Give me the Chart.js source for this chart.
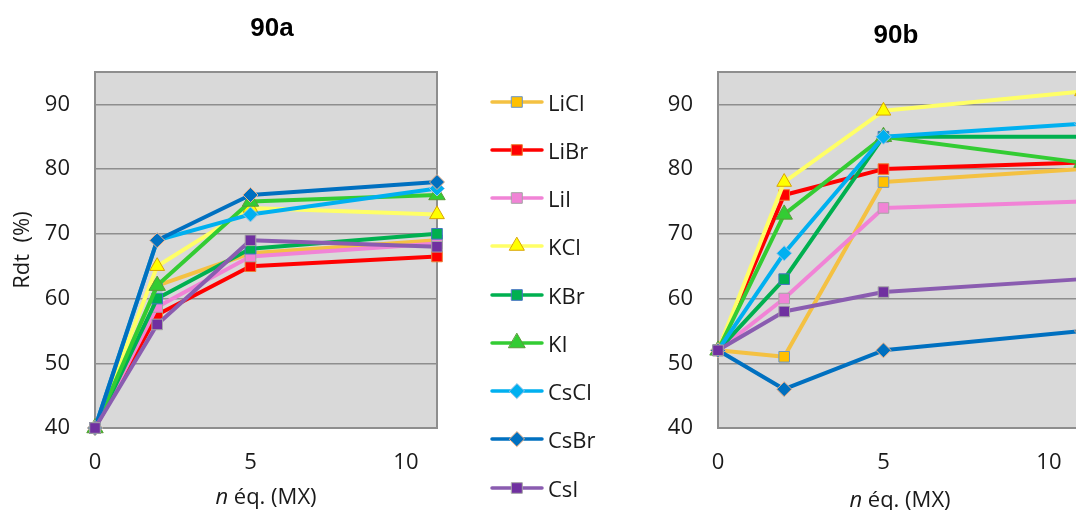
<!DOCTYPE html>
<html>
<head>
<meta charset="utf-8">
<script src="https://cdn.jsdelivr.net/npm/chart.js@4.4.0/dist/chart.umd.min.js"></script>
<style>
  html, body { margin: 0; padding: 0; background: #fff; }
  #page { position: relative; width: 1076px; height: 510px; overflow: hidden; font-family: 'Open Sans', sans-serif; }
  #wrapA { position: absolute; left: 0; top: 0; }
  #wrapB { position: absolute; left: 640px; top: 0; }
  .item { position: absolute; left: 488px; height: 28px; display: flex; align-items: center; }
  .item canvas { display: block; }
  .item span { font-size: 22px; color: #1a1a1a; margin-left: 2px; white-space: nowrap; }
</style>
</head>
<body>
<div id="page">
  <div id="wrapA"><canvas id="chartA" width="544" height="510"></canvas></div>
  <div id="wrapB"><canvas id="chartB" width="512" height="510"></canvas></div>
  <div id="legend"></div>
</div>
<script>
// x = n éq. (MX)
const xValues = [0, 2, 5, 11];
const salts = ['LiCl', 'LiBr', 'LiI', 'KCl', 'KBr', 'KI', 'CsCl', 'CsBr', 'CsI'];

// 90a - Rdt (%)
const liclA = [40, 62, 67, 69];
const librA = [40, 57.5, 65, 66.5];
const liiA  = [40, 58.7, 66.5, 68.5];
const kclA  = [40, 65, 74, 73];
const kbrA  = [40, 60, 67.7, 70];
const kiA   = [40, 62, 75, 76];
const csclA = [40, 69, 73, 77];
const csbrA = [40, 69, 76, 78];
const csiA  = [40, 56, 69, 68];

// 90b - Rdt (%)
const liclB = [52, 51, 78, 80];
const librB = [52, 76, 80, 81];
const liiB  = [52, 60, 74, 75];
const kclB  = [52, 78, 89, 92];
const kbrB  = [52, 63, 85, 85];
const kiB   = [52, 73, 85, 81];
const csclB = [52, 67, 85, 87];
const csbrB = [52, 46, 52, 55];
const csiB  = [52, 58, 61, 63];

const yTicks = [40, 50, 60, 70, 80, 90];
const xTicks = [0, 5, 10];

const styles = {
  LiCl: { line: '#f4c142', fill: '#ffc000', edge: '#6a95c8', shape: 'rect', r: 7.5 },
  LiBr: { line: '#ff0000', fill: '#ff0000', edge: '#ed7d31', shape: 'rect', r: 7.5 },
  LiI:  { line: '#f183d6', fill: '#f183d6', edge: '#a5a5a5', shape: 'rect', r: 7.5 },
  KCl:  { line: '#ffff66', fill: '#ffff00', edge: '#d9a400', shape: 'triangle', r: 8.5 },
  KBr:  { line: '#00b050', fill: '#00b050', edge: '#4472c4', shape: 'rect', r: 7.5 },
  KI:   { line: '#33cc33', fill: '#33cc33', edge: '#5a9a3a', shape: 'triangle', r: 9.5 },
  CsCl: { line: '#00b0f0', fill: '#00b0f0', edge: '#9dc3e6', shape: 'rectRot', r: 7.5 },
  CsBr: { line: '#0070c0', fill: '#0070c0', edge: '#f4b183', shape: 'rectRot', r: 7.5 },
  CsI:  { line: '#8a5cb0', fill: '#7030a0', edge: '#a5a5a5', shape: 'rect', r: 7.5 }
};

const textColor = '#1a1a1a';
const tickFont = { family: "'Open Sans', sans-serif", size: 22 };

// grey plot area with its frame
const plotFrame = {
  id: 'frame',
  beforeDraw(chart) {
    const { ctx, chartArea: a } = chart;
    ctx.save();
    ctx.fillStyle = '#d9d9d9';
    ctx.fillRect(a.left, a.top, a.width, a.height);
    ctx.restore();
  },
  beforeDatasetsDraw(chart) {
    const { ctx, chartArea: a } = chart;
    ctx.save();
    ctx.strokeStyle = '#8e8e8e';
    ctx.lineWidth = 2;
    ctx.strokeRect(a.left, a.top, a.width, a.height);
    ctx.restore();
  }
};

// x axis title with italic n
const xAxisTitle = {
  id: 'xTitle',
  afterDraw(chart, args, opts) {
    const { ctx, chartArea: a } = chart;
    const italic = "italic 22px 'Open Sans', sans-serif";
    const normal = "22px 'Open Sans', sans-serif";
    const rest = ' éq. (MX)';
    ctx.save();
    ctx.font = italic;
    const w1 = ctx.measureText('n').width;
    ctx.font = normal;
    const w2 = ctx.measureText(rest).width;
    let x = (a.left + a.right) / 2 - (w1 + w2) / 2;
    ctx.fillStyle = textColor;
    ctx.textAlign = 'left';
    ctx.textBaseline = 'alphabetic';
    ctx.font = italic;
    ctx.fillText('n', x, opts.baseline);
    ctx.font = normal;
    ctx.fillText(rest, x + w1, opts.baseline);
    ctx.restore();
  }
};

function buildDatasets(series) {
  return salts.map((name, i) => {
    const st = styles[name];
    return {
      label: name,
      data: series[i].map((v, j) => ({ x: xValues[j], y: v })),
      borderColor: st.line,
      borderWidth: 4,
      borderCapStyle: 'round',
      borderJoinStyle: 'round',
      pointStyle: st.shape,
      pointRadius: st.r,
      pointBackgroundColor: st.fill,
      pointBorderColor: st.edge,
      pointBorderWidth: 1,
      tension: 0,
      clip: false,
      order: salts.length - i,
      xAxisID: 'x',
      yAxisID: 'y'
    };
  });
}

function makeOptions(cfg) {
  return {
    responsive: false,
    animation: false,
    events: [],
    layout: { padding: 0 },
    plugins: {
      legend: { display: false },
      tooltip: { enabled: false },
      title: {
        display: true,
        text: cfg.title,
        color: '#000',
        font: { family: "'Liberation Sans', Arial, sans-serif", size: 26, weight: 'bold' },
        padding: cfg.titlePadding
      },
      xTitle: { baseline: cfg.xBaseline }
    },
    scales: {
      x: {
        type: 'linear',
        min: 0,
        max: 11,
        grid: { display: false, drawTicks: false },
        border: { display: false },
        afterBuildTicks: s => { s.ticks = xTicks.map(v => ({ value: v })); },
        ticks: { padding: 22, color: textColor, font: tickFont },
        afterFit: s => { s.height = 82; }
      },
      y: {
        type: 'linear',
        min: 40,
        max: 95,
        grid: { color: '#8e8e8e', lineWidth: 1.5, drawTicks: false },
        border: { display: false },
        afterBuildTicks: s => { s.ticks = yTicks.map(v => ({ value: v })); },
        ticks: { padding: 25, color: textColor, font: tickFont },
        title: {
          display: !!cfg.yTitle,
          text: cfg.yTitle || '',
          color: textColor,
          font: tickFont,
          padding: { top: 10, bottom: 0 }
        },
        afterFit: s => { s.width = cfg.left; }
      },
      pad: {
        type: 'linear',
        position: 'right',
        display: true,
        grid: { display: false, drawTicks: false },
        border: { display: false },
        ticks: { display: false },
        afterFit: s => { s.width = cfg.right; }
      }
    }
  };
}

new Chart(document.getElementById('chartA'), {
  type: 'line',
  data: { datasets: buildDatasets([liclA, librA, liiA, kclA, kbrA, kiA, csclA, csbrA, csiA]) },
  options: makeOptions({
    title: '90a', titlePadding: { top: 13, bottom: 27.8 }, xBaseline: 504,
    yTitle: 'Rdt  (%)', left: 95, right: 107
  }),
  plugins: [plotFrame, xAxisTitle]
});

new Chart(document.getElementById('chartB'), {
  type: 'line',
  data: { datasets: buildDatasets([liclB, librB, liiB, kclB, kbrB, kiB, csclB, csbrB, csiB]) },
  options: makeOptions({
    title: '90b', titlePadding: { top: 20.4, bottom: 20.4 }, xBaseline: 507,
    left: 78, right: 70
  }),
  plugins: [plotFrame, xAxisTitle]
});

// legend: line with marker, as in the spreadsheet
const legend = document.getElementById('legend');
salts.forEach((name, i) => {
  const st = styles[name];
  const row = document.createElement('div');
  row.className = 'item';
  row.style.top = (101.7 + i * 48.25 - 14) + 'px';
  const c = document.createElement('canvas');
  c.width = 58;
  c.height = 28;
  const g = c.getContext('2d');
  g.strokeStyle = st.line;
  g.lineWidth = 3.5;
  g.lineCap = 'round';
  g.beginPath();
  g.moveTo(4, 14);
  g.lineTo(54, 14);
  g.stroke();
  g.fillStyle = st.fill;
  g.strokeStyle = st.edge;
  g.lineWidth = 1;
  Chart.helpers.drawPoint(g, { pointStyle: st.shape, radius: st.r, rotation: 0, borderWidth: 1 }, 29, 14);
  const label = document.createElement('span');
  label.textContent = name;
  row.appendChild(c);
  row.appendChild(label);
  legend.appendChild(row);
});
</script>
</body>
</html>
